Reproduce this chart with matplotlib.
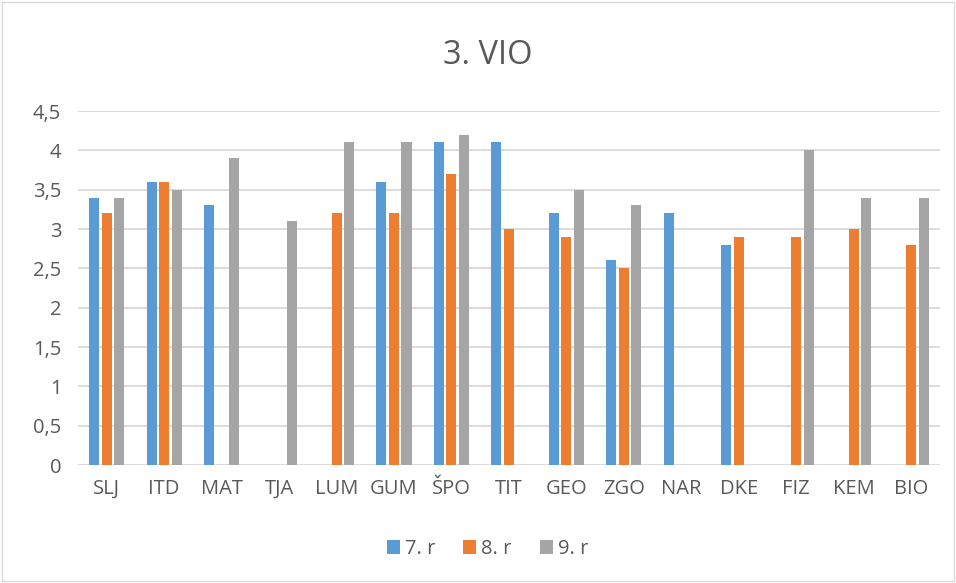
import matplotlib
matplotlib.use('Agg')
import matplotlib.pyplot as plt
import numpy as np

plt.rcParams['font.family'] = ['Open Sans', 'DejaVu Sans']

# data (NaN = no bar)
subjects = ['SLJ', 'ITD', 'MAT', 'TJA', 'LUM', 'GUM', 'ŠPO', 'TIT',
            'GEO', 'ZGO', 'NAR', 'DKE', 'FIZ', 'KEM', 'BIO']
r7 = [3.4, 3.6, 3.3, np.nan, np.nan, 3.6, 4.1, 4.1, 3.2, 2.6, 3.2, 2.8, np.nan, np.nan, np.nan]
r8 = [3.2, 3.6, np.nan, np.nan, 3.2, 3.2, 3.7, 3.0, 2.9, 2.5, np.nan, 2.9, 2.9, 3.0, 2.8]
r9 = [3.4, 3.5, 3.9, 3.1, 4.1, 4.1, 4.2, np.nan, 3.5, 3.3, np.nan, np.nan, 4.0, 3.4, 3.4]
series_names = ['7. r', '8. r', '9. r']
colors = ['#5b9bd5', '#ed7d31', '#a5a5a5']
yticks = [0, 0.5, 1, 1.5, 2, 2.5, 3, 3.5, 4, 4.5]

txt = '#595959'
fig = plt.figure(figsize=(9.56, 5.83), dpi=100)
ax = fig.add_axes([0.0816, 0.2024, 0.9014, 0.6072])

x = np.arange(len(subjects))
w = 0.175
off = 0.218
for i, (vals, name, c) in enumerate(zip([r7, r8, r9], series_names, colors)):
    ax.bar(x + (i - 1) * off, vals, width=w, color=c, label=name, zorder=3)

ax.set_xlim(-0.5, len(subjects) - 0.5)
ax.set_ylim(0, 4.5)
ax.set_yticks(yticks)
ax.set_yticklabels([('%g' % t).replace('.', ',') for t in yticks])
ax.set_xticks(x)
ax.set_xticklabels(subjects)
ax.tick_params(axis='both', length=0, colors=txt, labelsize=14.5)
ax.tick_params(axis='x', pad=10)
ax.tick_params(axis='y', pad=12)
ax.yaxis.grid(True, color='#d9d9d9', linewidth=1.3, zorder=0)
for s in ax.spines.values():
    s.set_visible(False)

fig.text(0.51, 0.905, '3. VIO', ha='center', va='center', fontsize=23.5, color=txt)

leg = fig.legend(loc='center', bbox_to_anchor=(0.51, 0.058), ncol=3, frameon=False,
                 fontsize=14.5, handlelength=0.65, handleheight=0.65, handletextpad=0.25,
                 columnspacing=1.4)
for t in leg.get_texts():
    t.set_color(txt)

# light frame around the whole chart
fig.patches.append(plt.Rectangle((0.002, 0.003), 0.996, 0.994, transform=fig.transFigure,
                                 fill=False, edgecolor='#d9d9d9', linewidth=1))

fig.savefig('out.png', dpi=100)
